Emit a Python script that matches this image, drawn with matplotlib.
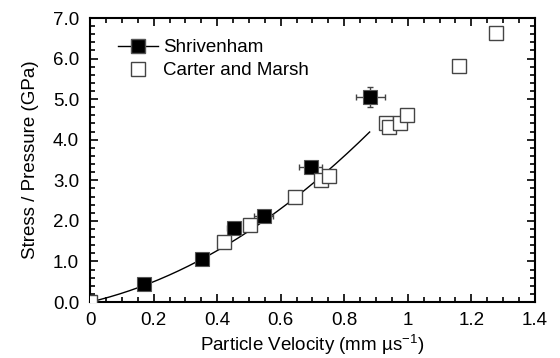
import numpy as np
import matplotlib
matplotlib.use("Agg")
import matplotlib.pyplot as plt
from matplotlib.ticker import MultipleLocator, FixedLocator

plt.rcParams['font.family'] = ['Liberation Sans', 'DejaVu Sans']
plt.rcParams['mathtext.fontset'] = 'custom'
plt.rcParams['mathtext.rm'] = 'Liberation Sans'
plt.rcParams['mathtext.it'] = 'Liberation Sans'

# Shrivenham data
shr_u = [0.17, 0.352, 0.452, 0.547, 0.694, 0.882]
shr_p = [0.44, 1.06, 1.82, 2.13, 3.33, 5.05]
shr_uerr = [0.0, 0.0, 0.02, 0.03, 0.035, 0.045]
shr_perr = [0.0, 0.0, 0.06, 0.0, 0.08, 0.25]

# Carter and Marsh data
cm_u = [0.0, 0.42, 0.502, 0.645, 0.727, 0.752, 0.931, 0.940, 0.975, 0.998, 1.16, 1.277]
cm_p = [0.0, 1.49, 1.89, 2.59, 3.00, 3.10, 4.40, 4.32, 4.40, 4.61, 5.81, 6.62]

# Quadratic fit coefficients P = a*u + b*u^2 (fit through Shrivenham data)
fit_a = 1.84
fit_b = 3.32
fit_umax = 0.88

xticks = [0, 0.2, 0.4, 0.6, 0.8, 1.0, 1.2, 1.4]
xticklabels = ['0', '0.2', '0.4', '0.6', '0.8', '1', '1.2', '1.4']
yticks = [0, 1, 2, 3, 4, 5, 6, 7]
yticklabels = ['0.0', '1.0', '2.0', '3.0', '4.0', '5.0', '6.0', '7.0']

fig = plt.figure(figsize=(5.6, 3.58), dpi=100)
ax = fig.add_axes([0.161, 0.1564, 0.794, 0.7933])

uu = np.linspace(0, fit_umax, 200)
ax.plot(uu, fit_a * uu + fit_b * uu**2, color='black', lw=1.0, zorder=2)

ax.errorbar(shr_u, shr_p, xerr=shr_uerr, yerr=shr_perr, fmt='none',
            ecolor='#444444', elinewidth=1.0, capsize=2.5, capthick=1.0, zorder=3)
ax.plot(shr_u, shr_p, linestyle='none', marker='s', markersize=9.5,
        markerfacecolor='black', markeredgecolor='#555555', markeredgewidth=0.8, zorder=4)
ax.plot(cm_u, cm_p, linestyle='none', marker='s', markersize=9.5,
        markerfacecolor='white', markeredgecolor='#444444', markeredgewidth=1.0, zorder=5)

# legend handles
h1, = ax.plot([], [], color='black', lw=1.0, marker='s', markersize=9.5,
              markerfacecolor='black', markeredgecolor='#555555')
h2, = ax.plot([], [], linestyle='none', marker='s', markersize=9.5,
              markerfacecolor='white', markeredgecolor='#444444')
ax.legend([h1, h2], ['Shrivenham', 'Carter and Marsh'], loc='upper left',
          bbox_to_anchor=(0.063, 0.925), frameon=False, fontsize=13.5,
          handlelength=2.1, handletextpad=0.3, labelspacing=0.3,
          borderaxespad=0, borderpad=0)

ax.set_xlim(0, 1.4)
ax.set_ylim(0, 7.0)
ax.xaxis.set_major_locator(FixedLocator(xticks))
ax.set_xticklabels(xticklabels)
ax.yaxis.set_major_locator(FixedLocator(yticks))
ax.set_yticklabels(yticklabels)
ax.xaxis.set_minor_locator(MultipleLocator(0.05))
ax.yaxis.set_minor_locator(MultipleLocator(0.2))
ax.tick_params(which='both', direction='in', top=True, right=True, width=1.2)
ax.tick_params(which='major', length=6, labelsize=13.5)
ax.tick_params(axis='x', which='major', pad=7)
ax.tick_params(axis='y', which='major', pad=8)
ax.tick_params(which='minor', length=3.5)
for s in ax.spines.values():
    s.set_linewidth(1.5)

ax.set_xlabel('Particle Velocity (mm µs$^{-1}$)', fontsize=13.5, labelpad=3)
ax.set_ylabel('Stress / Pressure (GPa)', fontsize=13.5, labelpad=10)

fig.savefig('out.png', dpi=100)
